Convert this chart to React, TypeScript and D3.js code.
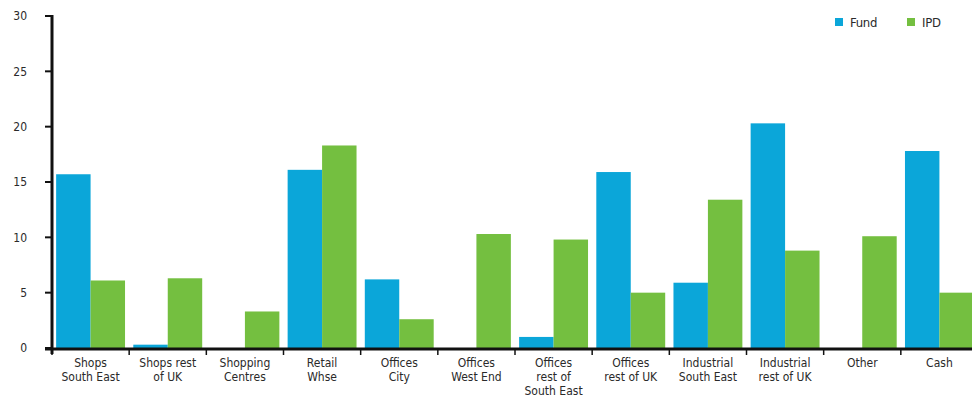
import React from "react";
import * as d3 from "d3";

const categories: string[][] = [
  ["Shops", "South East"],
  ["Shops rest", "of UK"],
  ["Shopping", "Centres"],
  ["Retail", "Whse"],
  ["Offices", "City"],
  ["Offices", "West End"],
  ["Offices", "rest of", "South East"],
  ["Offices", "rest of UK"],
  ["Industrial", "South East"],
  ["Industrial", "rest of UK"],
  ["Other"],
  ["Cash"],
];
const fund = [15.7, 0.3, 0, 16.1, 6.2, 0, 1.0, 15.9, 5.9, 20.3, 0, 17.8];
const ipd = [6.1, 6.3, 3.3, 18.3, 2.6, 10.3, 9.8, 5.0, 13.4, 8.8, 10.1, 5.0];
const yTicks = [0, 5, 10, 15, 20, 25, 30];
const seriesNames = ["Fund", "IPD"];
const colors = ["#0ba6d9", "#74bf40"];

const W = 972;
const H = 405;
const font = "'DejaVu Sans Condensed', 'Liberation Sans', sans-serif";

export default function App() {
  const keys = categories.map((c) => c.join(" "));
  const x = d3.scaleBand<string>().domain(keys).range([52, 978]).padding(0);
  const x1 = d3
    .scaleBand<string>()
    .domain(seriesNames)
    .range([0, x.bandwidth()])
    .paddingInner(0)
    .paddingOuter(0.12);
  const y = d3.scaleLinear().domain([0, 30]).range([348, 16]);
  const series = [fund, ipd];

  return (
    <svg
      width={W}
      height={H}
      style={{ position: "absolute", left: 0, top: 0, background: "#fff" }}
      fontFamily={font}
    >
      {keys.map((k, i) =>
        series.map((s, j) =>
          s[i] > 0 ? (
            <rect
              key={k + j}
              x={(x(k) as number) + (x1(seriesNames[j]) as number)}
              y={y(s[i])}
              width={x1.bandwidth()}
              height={y(0) - y(s[i])}
              fill={colors[j]}
            />
          ) : null
        )
      )}
      {/* y axis */}
      <line x1={52} x2={52} y1={y(30) - 1} y2={y(0) + 6} stroke="#111" strokeWidth={3} />
      {yTicks.map((t) => (
        <g key={t}>
          <line x1={45} x2={52} y1={y(t)} y2={y(t)} stroke="#111" strokeWidth={2} />
          <text x={27} y={y(t)} dy="0.35em" textAnchor="end" fontSize={12} fill="#2a2a2a">
            {t}
          </text>
        </g>
      ))}
      {/* x axis */}
      <line x1={45} x2={W} y1={y(0) + 1} y2={y(0) + 1} stroke="#111" strokeWidth={3} />
      {keys.map((k) => (
        <line
          key={"t" + k}
          x1={x(k) as number}
          x2={x(k) as number}
          y1={y(0)}
          y2={y(0) + 7}
          stroke="#111"
          strokeWidth={1.5}
        />
      ))}
      {categories.map((c, i) =>
        c.map((line, li) => (
          <text
            key={"l" + i + "_" + li}
            x={(x(keys[i]) as number) + x.bandwidth() / 2}
            y={367 + li * 14}
            textAnchor="middle"
            fontSize={12}
            fill="#2a2a2a"
          >
            {line}
          </text>
        ))
      )}
      {/* legend */}
      {seriesNames.map((n, j) => (
        <g key={n} transform={`translate(${835 + j * 72},18)`}>
          <rect x={0} y={0} width={8} height={8} fill={colors[j]} />
          <text x={15} y={4} dy="0.35em" fontSize={13} letterSpacing={-0.3} fill="#2a2a2a">
            {n}
          </text>
        </g>
      ))}
    </svg>
  );
}
